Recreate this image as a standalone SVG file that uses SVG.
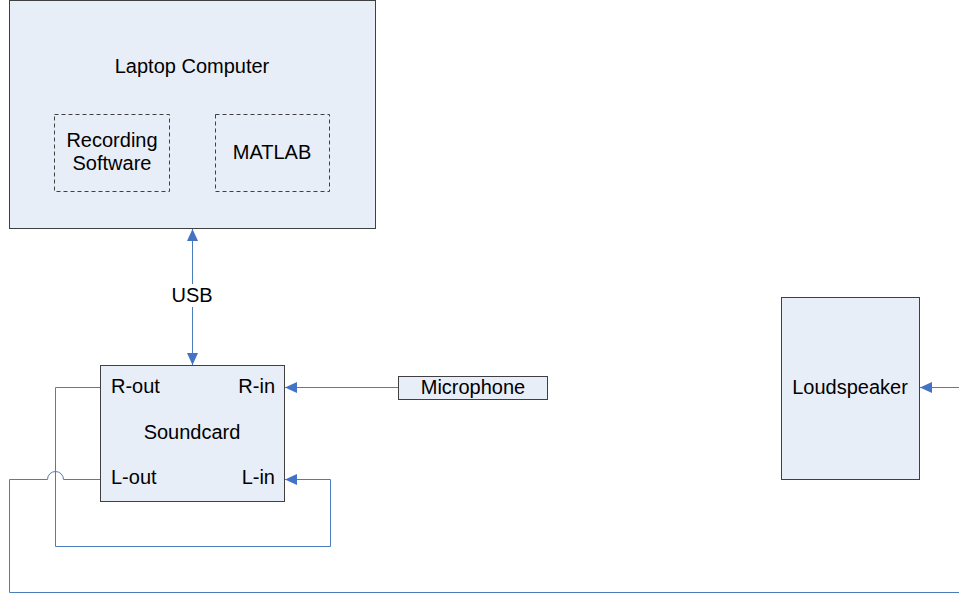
<svg xmlns="http://www.w3.org/2000/svg" width="959" height="598" viewBox="0 0 959 598">
<style>
.box{fill:#e8eef8;stroke:#404040;stroke-width:1}
.dash{fill:none;stroke:#404040;stroke-width:1;stroke-dasharray:4,3}
.t{font-family:"Liberation Sans",Arial,sans-serif;font-size:20px;fill:#000}
.m{text-anchor:middle}
.e{text-anchor:end}
.c{fill:none;stroke:#4a7ebb;stroke-width:1}
</style>
<defs>
<marker id="ah" viewBox="0 0 12 11" refX="12" refY="5.5" markerWidth="12" markerHeight="11" markerUnits="userSpaceOnUse" orient="auto-start-reverse">
<path d="M0,0 L12,5.5 L0,11 z" fill="#4472c4"/>
</marker>
</defs>
<rect width="959" height="598" fill="#fff"/>
<g id="laptop">
<rect class="box" x="9.5" y="0.5" width="366" height="228"/>
<text class="t m" x="192" y="73">Laptop Computer</text>
</g>
<g id="recording">
<rect class="dash" x="54.5" y="114.5" width="115" height="77"/>
<text class="t m" x="112" y="147">Recording</text>
<text class="t m" x="112" y="170">Software</text>
</g>
<g id="matlab">
<rect class="dash" x="215.5" y="114.5" width="114" height="77"/>
<text class="t m" x="272" y="159">MATLAB</text>
</g>
<g id="soundcard">
<rect class="box" x="100.5" y="365.5" width="184" height="136"/>
<text class="t" x="111" y="393">R-out</text>
<text class="t e" x="275" y="393">R-in</text>
<text class="t m" x="192" y="439">Soundcard</text>
<text class="t" x="111" y="484">L-out</text>
<text class="t e" x="275" y="484">L-in</text>
</g>
<g id="microphone">
<rect class="box" x="398.5" y="376.5" width="149" height="23"/>
<text class="t m" x="473" y="394">Microphone</text>
</g>
<g id="loudspeaker">
<rect class="box" x="781.5" y="297.5" width="138" height="182"/>
<text class="t m" x="850" y="394">Loudspeaker</text>
</g>
<g id="connectors">
<path class="c" d="M192.5,365 V229" marker-start="url(#ah)" marker-end="url(#ah)"/>
<rect x="169" y="284" width="46" height="23" fill="#fff"/>
<text class="t m" x="192" y="302">USB</text>
<path class="c" d="M398,387.5 H285" marker-end="url(#ah)"/>
<path class="c" d="M100,387.5 H55.5 V546.5 H330.5 V479.5 H285" marker-end="url(#ah)"/>
<path class="c" d="M100,479.5 H63.5 A8,8 0 0 0 47.5,479.5 H9.5 V592.5 H960"/>
<path class="c" d="M960,387.5 H920" marker-end="url(#ah)"/>
</g>
</svg>
